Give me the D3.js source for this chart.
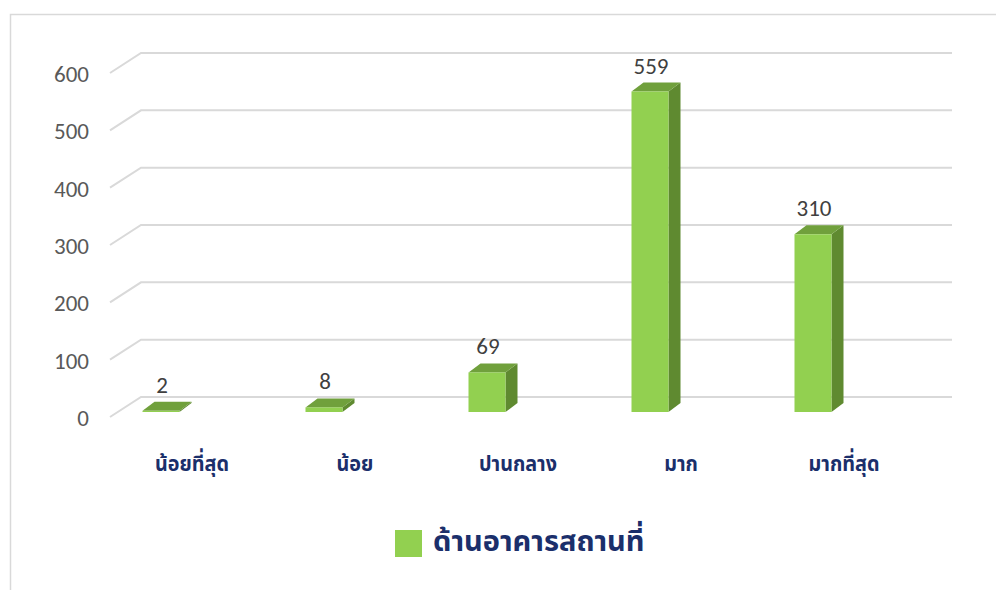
<!DOCTYPE html>
<html>
<head>
<meta charset="utf-8">
<script src="https://cdn.jsdelivr.net/npm/d3@7"></script>
<style>
  html, body { margin: 0; padding: 0; background: #fff; }
  svg { display: block; }
</style>
</head>
<body>
<div id="chart"></div>
<script>
const categories = ['น้อยที่สุด', 'น้อย', 'ปานกลาง', 'มาก', 'มากที่สุด']
const values = [2, 8, 69, 559, 310]
const yTicks = [0, 100, 200, 300, 400, 500, 600]
const seriesName = 'ด้านอาคารสถานที่'

const width = 996
const height = 590

const FRONT = '#92d050'
const SIDE = '#5f8a30'
const TOP = '#70a03c'
const GRID = '#d9d9d9'
const NAVY = '#1b2f6b'
const NUM_FONT = 'Carlito, "Open Sans", "Liberation Sans", sans-serif'
const THAI_FONT = '"Noto Sans Thai", "Noto Sans", sans-serif'

// oblique 3D offsets
const depth = { dx: 12, dy: -9 }
const floorBack = { x: 141, dy: -15 }
const floorFront = { x: 110, dy: 5 }

const svg = d3.select('#chart')
  .append('svg')
  .attr('width', width)
  .attr('height', height)

// outer chart border (cut by the window on right and bottom)
svg.append('rect')
  .attr('x', 10.5)
  .attr('y', 14.5)
  .attr('width', 1000)
  .attr('height', 600)
  .attr('fill', 'none')
  .attr('stroke', GRID)
  .attr('stroke-width', 1.5)

const y = d3.scaleLinear().domain([0, 600]).range([412, 68])

const x = d3.scaleBand()
  .domain(categories)
  .range([79.5, 894.5])
  .paddingInner(0.773)
  .paddingOuter(0.3865)

// gridlines: diagonal on the side wall plus line on the back wall
svg.append('g')
  .attr('fill', 'none')
  .attr('stroke', GRID)
  .attr('stroke-width', 2)
  .selectAll('path')
  .data(yTicks)
  .join('path')
  .attr('d', (t) => {
    const yb = y(t) + floorBack.dy
    const yf = y(t) + floorFront.dy
    return `M${floorFront.x},${yf}L${floorBack.x},${yb}L952,${yb}`
  })

// y tick labels
svg.append('g')
  .attr('font-family', NUM_FONT)
  .attr('font-size', 23)
  .attr('fill', '#595959')
  .attr('text-anchor', 'end')
  .selectAll('text')
  .data(yTicks)
  .join('text')
  .attr('x', 89)
  .attr('y', (t) => y(t) + floorFront.dy + 9)
  .text((t) => t)

// bars
const rows = categories.map((c, i) => ({ c, v: values[i] }))
const bars = svg.append('g')
  .selectAll('g')
  .data(rows)
  .join('g')

bars.append('path')
  .attr('fill', SIDE)
  .attr('d', (d) => {
    const x1 = x(d.c) + x.bandwidth()
    const y0 = y(0)
    const y1 = y(d.v)
    return `M${x1},${y0}L${x1 + depth.dx},${y0 + depth.dy}L${x1 + depth.dx},${y1 + depth.dy}L${x1},${y1}Z`
  })

bars.append('path')
  .attr('fill', TOP)
  .attr('d', (d) => {
    const x0 = x(d.c)
    const x1 = x0 + x.bandwidth()
    const y1 = y(d.v)
    return `M${x0},${y1}L${x1},${y1}L${x1 + depth.dx},${y1 + depth.dy}L${x0 + depth.dx},${y1 + depth.dy}Z`
  })

bars.append('rect')
  .attr('fill', FRONT)
  .attr('x', (d) => x(d.c))
  .attr('y', (d) => y(d.v))
  .attr('width', x.bandwidth())
  .attr('height', (d) => y(0) - y(d.v))

// value labels
svg.append('g')
  .attr('font-family', NUM_FONT)
  .attr('font-size', 23)
  .attr('fill', '#404040')
  .attr('text-anchor', 'middle')
  .selectAll('text')
  .data(rows)
  .join('text')
  .attr('x', (d) => x(d.c) + x.bandwidth() / 2 + 1)
  .attr('y', (d) => y(d.v) - 18)
  .text((d) => d.v)

// category labels
svg.append('g')
  .attr('font-family', THAI_FONT)
  .attr('font-size', 22)
  .attr('font-weight', 'bold')
  .attr('fill', NAVY)
  .attr('text-anchor', 'middle')
  .selectAll('text')
  .data(categories)
  .join('text')
  .attr('transform', (c) => `translate(${x(c) + x.bandwidth() / 2 + 31},471) scale(0.9,1)`)
  .text((c) => c)

// legend
const legend = svg.append('g')
legend.append('rect')
  .attr('x', 395)
  .attr('y', 530)
  .attr('width', 27)
  .attr('height', 27)
  .attr('fill', FRONT)
legend.append('text')
  .attr('x', 433)
  .attr('y', 551)
  .attr('font-family', THAI_FONT)
  .attr('font-size', 29)
  .attr('font-weight', 'bold')
  .attr('fill', NAVY)
  .text(seriesName)
</script>
</body>
</html>
